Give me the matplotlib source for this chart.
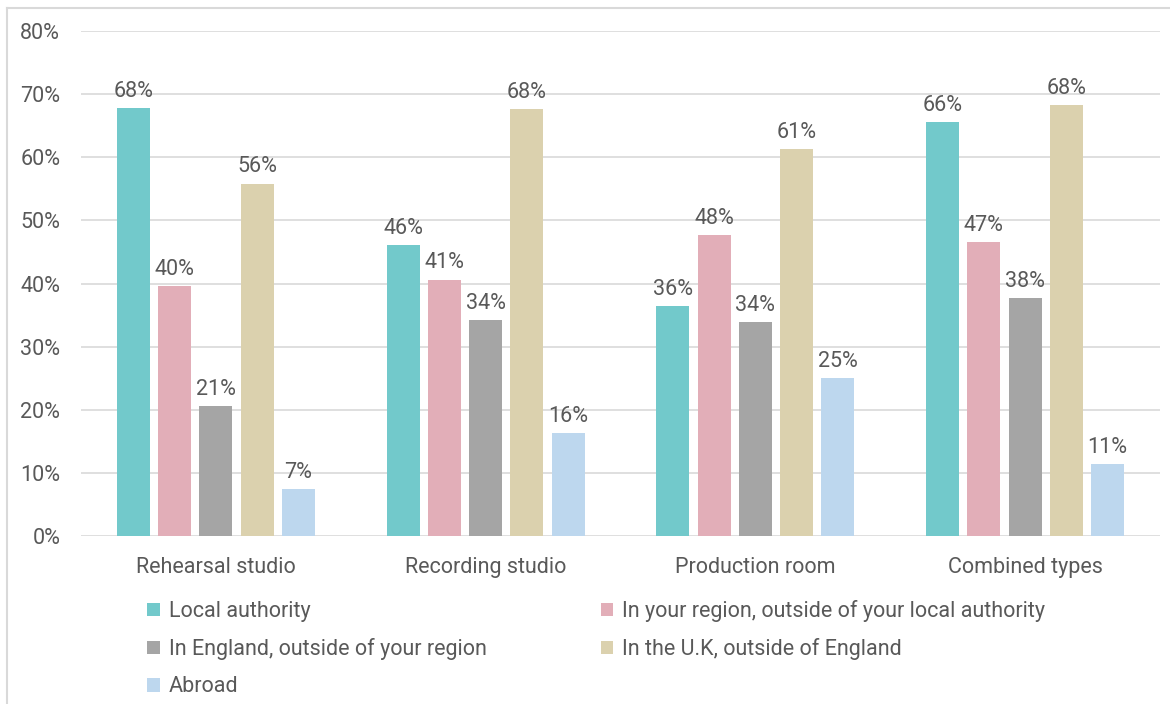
import matplotlib
matplotlib.use("Agg")
import matplotlib.pyplot as plt
from matplotlib.patches import Patch
from matplotlib.lines import Line2D
import numpy as np

categories = ["Rehearsal studio", "Recording studio", "Production room", "Combined types"]
series = [
    "Local authority",
    "In your region, outside of your local authority",
    "In England, outside of your region",
    "In the U.K, outside of England",
    "Abroad",
]
local_authority = [67.8, 46.1, 36.4, 65.6]
own_region = [39.6, 40.6, 47.7, 46.6]
england = [20.6, 34.2, 33.9, 37.7]
uk = [55.8, 67.6, 61.3, 68.3]
abroad = [7.4, 16.3, 25.0, 11.4]
values = [local_authority, own_region, england, uk, abroad]
colors = ["#72C9CB", "#E2AEB8", "#A5A5A5", "#DBD1AE", "#BDD7EE"]

txt = "#595959"
fs = 15.5
plt.rcParams["font.family"] = ["Roboto", "DejaVu Sans"]

fig = plt.figure(figsize=(11.7, 7.04), dpi=100)
ax = fig.add_axes([81 / 1170, 1 - 536 / 704, (1160 - 81) / 1170, (536 - 31) / 704])

x = np.arange(len(categories))
step = 0.153
width = 0.122
for i, (name, vals, c) in enumerate(zip(series, values, colors)):
    pos = x + (i - 2) * step
    ax.bar(pos, vals, width=width, color=c, label=name, zorder=3)
    for px, v in zip(pos, vals):
        ax.text(px, v + 1.0, f"{v:.0f}%", ha="center", va="bottom",
                fontsize=fs, color=txt)

ax.set_xlim(-0.5, 3.5)
ax.set_ylim(0, 80)
ax.set_yticks(range(0, 81, 10))
ax.set_yticklabels([f"{t}%" for t in range(0, 81, 10)])
ax.set_xticks(x)
ax.set_xticklabels(categories)
ax.tick_params(axis="y", length=0, pad=15, labelsize=fs, labelcolor=txt)
ax.tick_params(axis="x", length=0, pad=15, labelsize=fs, labelcolor=txt)
ax.grid(axis="y", color="#D9D9D9", linewidth=1.2, zorder=0)
for s in ax.spines.values():
    s.set_visible(False)

# legend, filled column-wise so rows read left to right
order = [0, 2, 4, 1, 3]
handles = [Patch(facecolor=colors[k]) for k in order]
labels = [series[k] for k in order]
fig.legend(handles, labels, ncol=2, loc="upper left",
           bbox_to_anchor=(147 / 1170, 1 - 600 / 704), frameon=False,
           fontsize=fs, labelcolor=txt, handlelength=0.6, handleheight=0.6,
           handletextpad=0.4, columnspacing=5.3, labelspacing=0.75,
           borderaxespad=0, borderpad=0)

# chart area border (top and left edges visible in the crop)
fig.add_artist(Line2D([7 / 1170, 1], [1 - 8 / 704] * 2, color="#D9D9D9", lw=1.5))
fig.add_artist(Line2D([7 / 1170] * 2, [0, 1 - 8 / 704], color="#D9D9D9", lw=1.5))

fig.savefig("out.png", dpi=100, facecolor="white")
